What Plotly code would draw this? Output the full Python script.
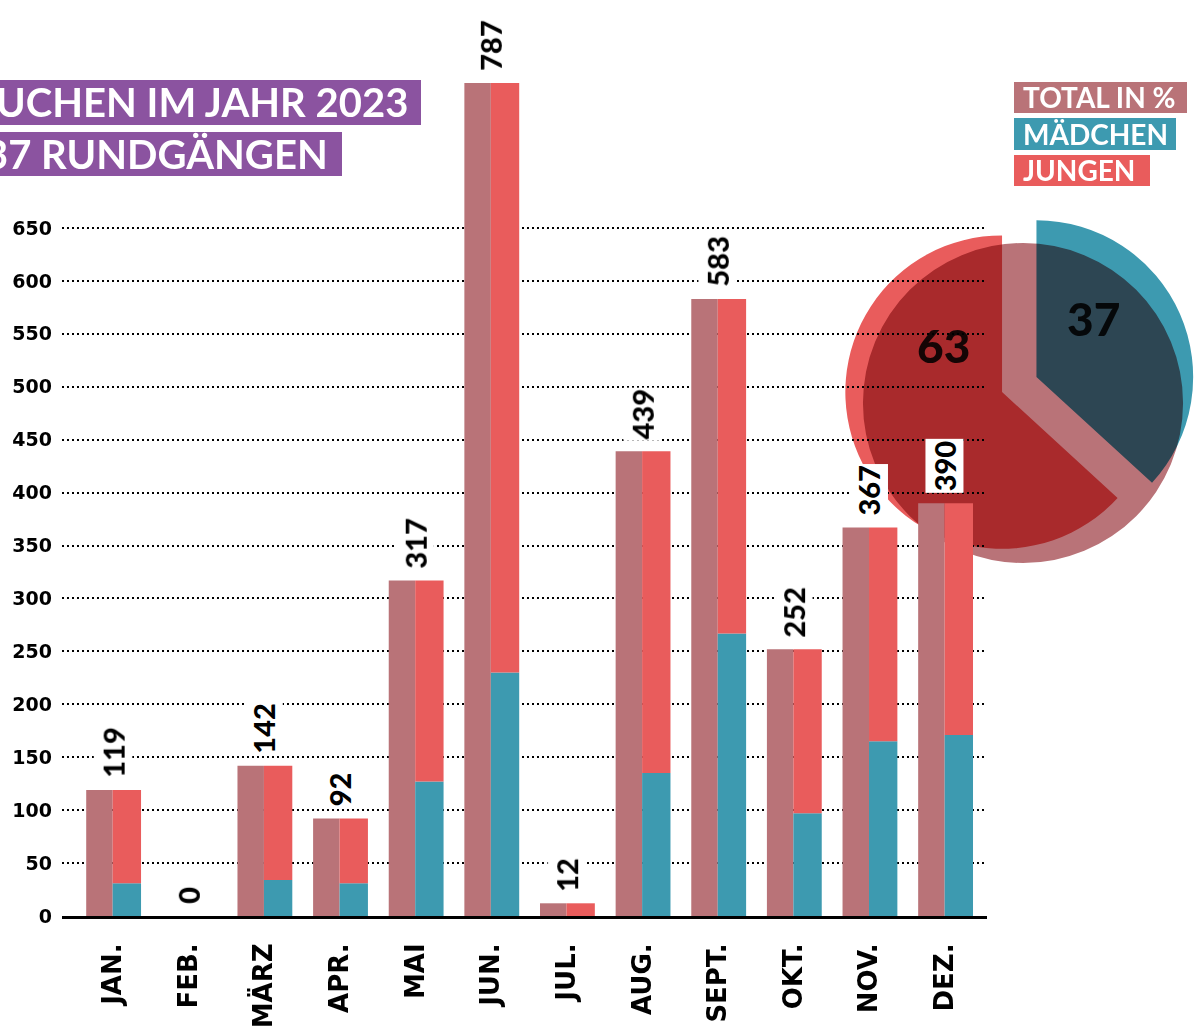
import plotly.graph_objects as go

# ---- data ----
months = ['JAN.', 'FEB.', 'MÄRZ', 'APR.', 'MAI', 'JUN.', 'JUL.', 'AUG.', 'SEPT.', 'OKT.', 'NOV.', 'DEZ.']
total = [119, 0, 142, 92, 317, 787, 12, 439, 583, 252, 367, 390]
maedchen = [31, 0, 34, 31, 127, 230, 0, 135, 267, 97, 165, 171]
jungen = [88, 0, 108, 61, 190, 557, 12, 304, 316, 155, 202, 219]
y_ticks = [0, 50, 100, 150, 200, 250, 300, 350, 400, 450, 500, 550, 600, 650]
title_lines = ['UCHEN IM JAHR 2023', '37 RUNDGÄNGEN']
legend_labels = ['TOTAL IN %', 'MÄDCHEN', 'JUNGEN']

MAUVE = '#b97378'
TEAL = '#3d9ab0'
RED = '#e95c5c'
PURPLE = '#8b53a0'

W, H = 1195, 1030


def px(x):
    return x / W


def py(y):
    return 1 - y / H


sum_m = sum(maedchen)
sum_j = sum(jungen)
sum_t = sum(total)
pct_m = round(100 * sum_m / (sum_m + sum_j))
pct_j = 100 - pct_m

fig = go.Figure()

# bars
fig.add_trace(go.Bar(x=months, y=total, width=0.35, offset=-0.35,
                     marker=dict(color=MAUVE, line=dict(width=0)), hoverinfo='skip'))
fig.add_trace(go.Bar(x=months, y=maedchen, width=0.375, offset=0,
                     marker=dict(color=TEAL, line=dict(width=0)), hoverinfo='skip'))
fig.add_trace(go.Bar(x=months, y=jungen, base=maedchen, width=0.375, offset=0,
                     marker=dict(color=RED, line=dict(width=0)), hoverinfo='skip'))

# pies
fig.add_trace(go.Pie(values=[sum_m, sum_j], labels=['Mädchen', 'Jungen'],
                     marker=dict(colors=[TEAL, RED], line=dict(width=0)),
                     sort=False, direction='clockwise', rotation=0,
                     pull=[0.12, 0.12], textinfo='none', hoverinfo='skip',
                     showlegend=False,
                     domain=dict(x=[px(843.5), 1.0], y=[py(560), py(209)])))
fig.add_trace(go.Pie(values=[sum_t], labels=['Total'],
                     marker=dict(colors=[MAUVE], line=dict(width=0)),
                     sort=False, textinfo='none', hoverinfo='skip', showlegend=False,
                     domain=dict(x=[px(863), px(1183)], y=[py(563), py(243)])))

annotations = []
for m, t in zip(months, total):
    annotations.append(dict(x=m, y=t, xref='x', yref='y', text=str(t), textangle=-90,
                            showarrow=False, xanchor='center', yanchor='bottom', yshift=10,
                            bgcolor='white', borderpad=1,
                            font=dict(family='Lato', size=29, color='black', weight=900)))

# pie labels
annotations.append(dict(x=px(943), y=py(345), xref='paper', yref='paper', text=str(pct_j),
                        showarrow=False, xanchor='center', yanchor='middle',
                        font=dict(family='Lato', size=46, color='rgba(0,0,0,0.88)', weight=900)))
annotations.append(dict(x=px(1093), y=py(318), xref='paper', yref='paper', text=str(pct_m),
                        showarrow=False, xanchor='center', yanchor='middle',
                        font=dict(family='Lato', size=46, color='rgba(0,0,0,0.88)', weight=900)))

shapes = []
# title boxes
title_boxes = [(-20, 421, 80, 125, 410), (-20, 342, 132, 176, 330)]
for (x0, x1, y0, y1, xr), txt in zip(title_boxes, title_lines):
    shapes.append(dict(type='rect', xref='paper', yref='paper', x0=px(x0), x1=px(x1),
                       y0=py(y1), y1=py(y0), fillcolor=PURPLE, line=dict(width=0), layer='above'))
    annotations.append(dict(x=px(xr), y=py((y0 + y1) / 2), xref='paper', yref='paper', text=txt,
                            showarrow=False, xanchor='right', yanchor='middle',
                            font=dict(family='Lato', size=40, color='white', weight='bold')))

# legend boxes
legend_boxes = [(1014, 1187, 82, 113, MAUVE), (1014, 1176, 118, 150, TEAL), (1014, 1150, 155, 186, RED)]
for (x0, x1, y0, y1, c), txt in zip(legend_boxes, legend_labels):
    shapes.append(dict(type='rect', xref='paper', yref='paper', x0=px(x0), x1=px(x1),
                       y0=py(y1), y1=py(y0), fillcolor=c, line=dict(width=0), layer='above'))
    annotations.append(dict(x=px(x0 + 7), y=py((y0 + y1) / 2), xref='paper', yref='paper', text=txt,
                            showarrow=False, xanchor='left', yanchor='middle',
                            font=dict(family='Lato', size=28, color='white', weight='bold')))

fig.update_layout(
    width=W, height=H, margin=dict(l=0, r=0, t=0, b=0, autoexpand=False),
    paper_bgcolor='white', plot_bgcolor='rgba(0,0,0,0)',
    barmode='overlay', showlegend=False,
    annotations=annotations, shapes=shapes,
    xaxis=dict(domain=[px(62), px(987)], type='category', range=[-0.67, 11.56],
               showline=True, linecolor='black', linewidth=3, showgrid=False,
               ticks='', tickangle=-90, ticklabelstandoff=14, automargin=False,
               tickfont=dict(family='DejaVu Sans', size=26, color='black', weight='bold'),
               fixedrange=True),
    yaxis=dict(domain=[1 - 916 / H, 1], range=[0, 916 / 1.0585],
               tickvals=y_ticks, ticktext=[str(v) for v in y_ticks],
               showgrid=True, gridcolor='black', gridwidth=2, griddash='2px,3px',
               zeroline=False, showline=False, ticks='', ticklabelstandoff=9, automargin=False,
               tickfont=dict(family='DejaVu Sans', size=19, color='black', weight='bold'),
               fixedrange=True),
)

post = """
document.body.style.margin = '0';
document.body.style.overflow = 'hidden';
var gd = document.getElementById('{plot_id}');
try {
  var pl = gd.querySelector('.pielayer');
  var cl = gd.querySelector('.cartesianlayer');
  if (pl && cl && pl.parentNode === cl.parentNode) { cl.parentNode.insertBefore(pl, cl); }
  var pies = gd.querySelectorAll('.pielayer g.trace');
  if (pies.length > 1) { pies[1].style.mixBlendMode = 'multiply'; }
  var plots = gd.querySelectorAll('.cartesianlayer .plot');
  for (var i = 0; i < plots.length; i++) { plots[i].removeAttribute('clip-path'); }
  var bars = gd.querySelectorAll('.barlayer g.trace');
  if (bars.length > 0) { bars[0].style.mixBlendMode = 'multiply'; }
} catch (e) {}
"""

fig.write_html("out.html", config={'displayModeBar': False}, post_script=post)
